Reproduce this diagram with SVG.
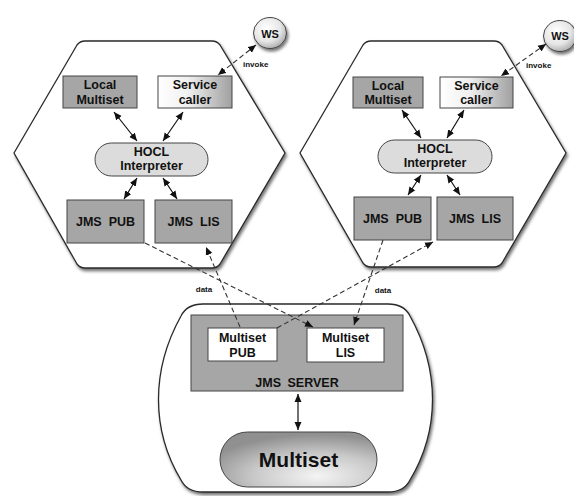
<svg xmlns="http://www.w3.org/2000/svg" width="574" height="496" viewBox="0 0 574 496">
<defs>
<style>
.hex{fill:#fff;stroke:#2a2a2a;stroke-width:1.3;filter:url(#sh)}
.box{fill:#a6a6a6;stroke:#444;stroke-width:1}
.wbox{fill:#fff;stroke:#444;stroke-width:1}
.pill{fill:#dcdcdc;stroke:#444;stroke-width:1}
.lbl{font-family:"Liberation Sans",Arial,sans-serif;font-weight:bold;font-size:12.5px;fill:#111;text-anchor:middle}
.small{font-family:"Liberation Sans",Arial,sans-serif;font-weight:bold;font-size:8px;fill:#111}
.solid{stroke:#111;stroke-width:1.2;fill:none;marker-start:url(#ah);marker-end:url(#ah)}
.dash{stroke:#333;stroke-width:1.1;fill:none;stroke-dasharray:5 3;marker-end:url(#ah)}
.dash2{stroke:#333;stroke-width:1.1;fill:none;stroke-dasharray:5 3;marker-start:url(#ah);marker-end:url(#ah)}
</style>
<filter id="sh" x="-10%" y="-10%" width="125%" height="125%">
<feDropShadow dx="1.5" dy="2.5" stdDeviation="1.5" flood-color="#000" flood-opacity="0.55"/>
</filter>
<marker id="ah" markerUnits="userSpaceOnUse" markerWidth="9" markerHeight="8" refX="8" refY="3.5" orient="auto-start-reverse" viewBox="0 0 9 7">
<path d="M0,0 L8,3.5 L0,7 z" fill="#111"/>
</marker>
<linearGradient id="svc" x1="0" y1="0" x2="1" y2="0">
<stop offset="0" stop-color="#ffffff"/>
<stop offset="0.4" stop-color="#f0f0f0"/>
<stop offset="1" stop-color="#a0a0a0"/>
</linearGradient>
<radialGradient id="ws" cx="0.4" cy="0.35" r="0.7">
<stop offset="0" stop-color="#ffffff"/>
<stop offset="0.6" stop-color="#e6e6e6"/>
<stop offset="1" stop-color="#a8a8a8"/>
</radialGradient>
<radialGradient id="ms" cx="0.62" cy="0.8" r="0.75">
<stop offset="0" stop-color="#f4f4f4"/>
<stop offset="0.55" stop-color="#c8c8c8"/>
<stop offset="1" stop-color="#909090"/>
</radialGradient>
</defs>

<g id="left-node">
<path class="hex" d="M14,153 L77,45 Q80,41 85,41 L212,41 Q217,41 220,45 L285,153 L220,264 Q217,268 212,268 L85,268 Q80,268 77,264 Z"/>
</g>
<g id="right-node">
<path class="hex" d="M300,153 L363,45 Q366,41 371,41 L494,41 Q499,41 502,45 L566,153 L502,263 Q499,267 494,267 L371,267 Q366,267 363,263 Z"/>
</g>
<g id="server-node">
<path class="hex" d="M203,304 L388,304 Q404,304 410,316 C440,370 440,430 410,480 Q404,492 388,492 L203,492 Q187,492 181,480 C151,430 151,370 181,316 Q187,304 203,304 Z"/>
</g>

<g id="ws-left">
<ellipse cx="270" cy="33" rx="16.5" ry="15.5" fill="url(#ws)" stroke="#444" stroke-width="1" filter="url(#sh)"/>
<text class="lbl" x="270" y="37.5" style="font-size:11px">WS</text>
</g>
<g id="ws-right">
<ellipse cx="560" cy="36" rx="16.5" ry="15.5" fill="url(#ws)" stroke="#444" stroke-width="1" filter="url(#sh)"/>
<text class="lbl" x="560" y="40" style="font-size:11px">WS</text>
</g>

<g id="left-local-multiset">
<rect class="box" x="63" y="76" width="74" height="32"/>
<text class="lbl" x="100" y="89">Local</text>
<text class="lbl" x="100" y="104">Multiset</text>
</g>
<g id="left-service-caller">
<rect x="158" y="76" width="74" height="32" fill="url(#svc)" stroke="#444" stroke-width="1"/>
<text class="lbl" x="195" y="89">Service</text>
<text class="lbl" x="195" y="104">caller</text>
</g>
<g id="left-hocl">
<rect class="pill" x="95" y="143" width="113" height="33" rx="16.5" ry="16.5"/>
<text class="lbl" x="151.5" y="156">HOCL</text>
<text class="lbl" x="151.5" y="170">Interpreter</text>
</g>
<g id="left-jms-pub">
<rect class="box" x="67" y="200" width="77" height="43"/>
<text class="lbl" x="105.5" y="226" word-spacing="3.5">JMS PUB</text>
</g>
<g id="left-jms-lis">
<rect class="box" x="155" y="200" width="77" height="43"/>
<text class="lbl" x="193.5" y="226" word-spacing="3.5">JMS LIS</text>
</g>

<g id="right-local-multiset">
<rect class="box" x="353" y="77" width="70" height="31"/>
<text class="lbl" x="388" y="90">Local</text>
<text class="lbl" x="388" y="104">Multiset</text>
</g>
<g id="right-service-caller">
<rect x="440" y="77" width="73" height="31" fill="url(#svc)" stroke="#444" stroke-width="1"/>
<text class="lbl" x="476.5" y="90">Service</text>
<text class="lbl" x="476.5" y="104">caller</text>
</g>
<g id="right-hocl">
<rect class="pill" x="378" y="140" width="114" height="33" rx="16.5" ry="16.5"/>
<text class="lbl" x="435" y="153">HOCL</text>
<text class="lbl" x="435" y="167">Interpreter</text>
</g>
<g id="right-jms-pub">
<rect class="box" x="354" y="197" width="77" height="43"/>
<text class="lbl" x="392.5" y="223" word-spacing="3.5">JMS PUB</text>
</g>
<g id="right-jms-lis">
<rect class="box" x="437" y="197" width="76" height="43"/>
<text class="lbl" x="475" y="223" word-spacing="3.5">JMS LIS</text>
</g>

<g id="jms-server">
<rect class="box" x="191" y="315" width="212" height="76"/>
<text class="lbl" x="297" y="387" word-spacing="3">JMS SERVER</text>
</g>
<g id="multiset-pub">
<rect class="wbox" x="208" y="328" width="69" height="33"/>
<text class="lbl" x="242.5" y="342">Multiset</text>
<text class="lbl" x="242.5" y="357">PUB</text>
</g>
<g id="multiset-lis">
<rect class="wbox" x="307" y="328" width="77" height="34"/>
<text class="lbl" x="345.5" y="342">Multiset</text>
<text class="lbl" x="345.5" y="357">LIS</text>
</g>
<g id="multiset">
<rect x="220" y="432" width="157" height="55" rx="27.5" ry="27.5" fill="url(#ms)" stroke="#444" stroke-width="1"/>
<text class="lbl" x="298.5" y="467" style="font-size:21px">Multiset</text>
</g>

<g id="connectors">
<line class="solid" x1="114" y1="112" x2="137" y2="141"/>
<line class="solid" x1="183" y1="112" x2="163" y2="141"/>
<line class="solid" x1="137" y1="178" x2="124" y2="199"/>
<line class="solid" x1="163" y1="178" x2="177" y2="199"/>
<line class="solid" x1="402" y1="110" x2="421" y2="138"/>
<line class="solid" x1="464" y1="110" x2="447" y2="138"/>
<line class="solid" x1="421" y1="175" x2="408" y2="195"/>
<line class="solid" x1="447" y1="175" x2="460" y2="195"/>
<line class="solid" x1="298" y1="394" x2="298" y2="430"/>
<line class="dash2" x1="256" y1="45" x2="218" y2="75"/>
<line class="dash2" x1="546" y1="44" x2="501" y2="76"/>
<line class="dash" x1="145" y1="243" x2="313" y2="327"/>
<line class="dash" x1="240" y1="327" x2="206" y2="247"/>
<line class="dash" x1="277" y1="328" x2="433" y2="242"/>
<line class="dash" x1="383" y1="240" x2="354" y2="325"/>
<text class="small" x="243" y="67">invoke</text>
<text class="small" x="526" y="68">invoke</text>
<text class="small" x="204" y="292" text-anchor="middle">data</text>
<text class="small" x="383" y="293" text-anchor="middle">data</text>
</g>
</svg>
